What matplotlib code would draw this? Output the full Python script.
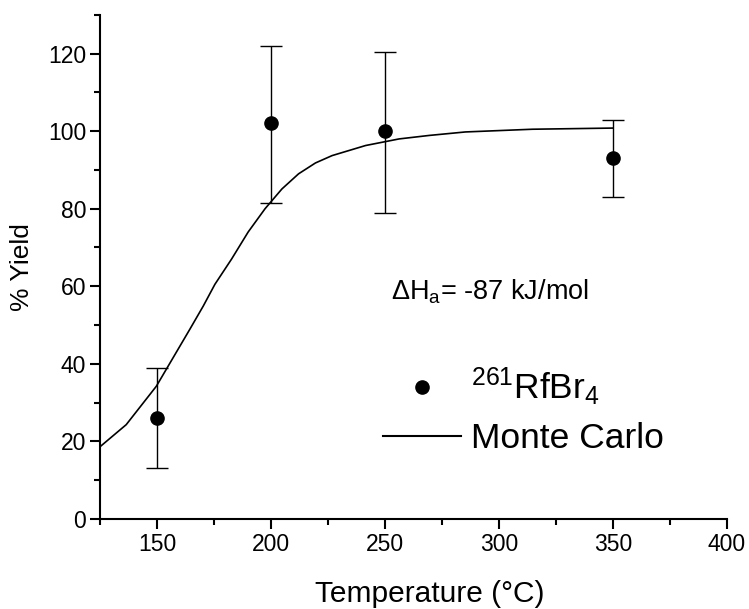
import matplotlib
matplotlib.use("Agg")
from matplotlib import pyplot as plt
from matplotlib.lines import Line2D
from matplotlib.ticker import MultipleLocator

plt.rcParams["font.family"] = ["Liberation Sans", "DejaVu Sans"]
plt.rcParams["mathtext.fontset"] = "custom"
plt.rcParams["mathtext.rm"] = "Liberation Sans"
plt.rcParams["mathtext.it"] = "Liberation Sans"

# measured yields
temp = [150, 200, 250, 350]
yield_pct = [26, 102, 100, 93]
err_low = [13, 81.5, 79, 83]
err_high = [39, 122, 120.5, 103]

# Monte Carlo curve
mc_temp = [125, 136.5, 149.7, 164.4, 170.3, 175.4, 182.7, 190, 197.4, 204.8, 212.1,
           219.5, 226.8, 241.5, 256.2, 269.4, 285.3, 314.7, 350]
mc_yield = [18.6, 24.3, 34.2, 48.9, 54.9, 60.5, 67, 74, 80, 85.1, 89,
            91.8, 93.7, 96.3, 98, 98.9, 99.8, 100.5, 100.8]

yerr = [[y - lo for y, lo in zip(yield_pct, err_low)],
        [hi - y for y, hi in zip(yield_pct, err_high)]]

fig = plt.figure(figsize=(7.49, 6.09), dpi=100)
ax = fig.add_axes([0.1335, 0.148, 0.8371, 0.8276])

ax.plot(mc_temp, mc_yield, color="black", linewidth=1.2)
ax.errorbar(temp, yield_pct, yerr=yerr, fmt="o", color="black", markersize=9.5,
            capsize=8, elinewidth=1.0, capthick=1.0)

ax.set_xlim(125, 400)
ax.set_ylim(0, 130)
ax.xaxis.set_minor_locator(MultipleLocator(25))
ax.yaxis.set_minor_locator(MultipleLocator(10))
ax.set_yticks(range(0, 121, 20))
ax.set_xticks(range(150, 401, 50))

for s in ["top", "right"]:
    ax.spines[s].set_visible(False)
for s in ["left", "bottom"]:
    ax.spines[s].set_linewidth(1.5)
ax.tick_params(which="major", direction="out", length=7, width=1.5, labelsize=16.5, pad=3)
ax.tick_params(which="minor", direction="out", length=4.5, width=1.5)

ax.set_xlabel("Temperature (°C)", fontsize=21.5)
ax.xaxis.set_label_coords(0.526, -0.122)
ax.set_ylabel("% Yield", fontsize=19, labelpad=10)

ax.text(252.5, 58.5, r"$\Delta$H$_{\rm a}$= -87 kJ/mol", fontsize=19.5, va="center", ha="left")

handles = [
    Line2D([], [], marker="o", linestyle="none", color="black", markersize=9.5),
    Line2D([], [], color="black", linewidth=1.5),
]
labels = [r"$^{261}$RfBr$_4$", "Monte Carlo"]
ax.legend(handles, labels, frameon=False, fontsize=25.5, loc="center left",
          bbox_to_anchor=(0.4225, 0.215), handlelength=2.2, handletextpad=0.3,
          labelspacing=0.4, borderpad=0)

fig.savefig("out.png", dpi=100)
